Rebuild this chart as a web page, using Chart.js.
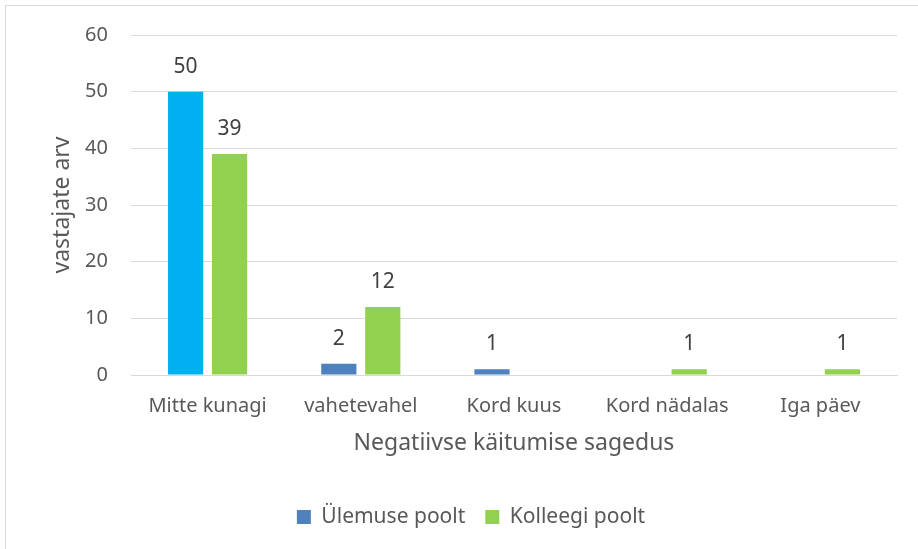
<!DOCTYPE html>
<html lang="et">
<head>
<meta charset="UTF-8">
<title>Negatiivse käitumise sagedus</title>
<script src="https://cdn.jsdelivr.net/npm/chart.js"></script>
<style>
    html, body { margin: 0; padding: 0; overflow: hidden; background: #fff; }
    .raam { position: absolute; left: 5px; top: 5px; width: 1000px; height: 700px; border: 1px solid #d9d9d9; }
    .joonis { position: absolute; left: 0; top: 0; width: 918px; height: 549px; }
</style>
</head>
<body>
<div class="raam"></div>
<div class="joonis"><canvas id="myChart" width="918" height="549"></canvas></div>

<script>
    // kategooriad ja väärtused
    const sagedused = ['Mitte kunagi', 'vahetevahel', 'Kord kuus', 'Kord nädalas', 'Iga päev'];
    const ulemusePoolt = [50, 2, 1, null, null];
    const kolleegiPoolt = [39, 12, null, 1, 1];
    const yTicks = [0, 10, 20, 30, 40, 50, 60];

    const fontNimi = "'Noto Sans', sans-serif";
    const hall = '#595959';
    const helesinine = '#00B0F0';
    const sinine = '#4F81BD';
    const roheline = '#92D050';

    // väärtuste sildid tulpade kohal
    const siltidePlugin = {
        id: 'sildid',
        afterDatasetsDraw(chart) {
            const ctx = chart.ctx;
            ctx.save();
            ctx.fillStyle = '#404040';
            ctx.font = '21px ' + fontNimi;
            ctx.textAlign = 'center';
            ctx.textBaseline = 'middle';
            chart.data.datasets.forEach((ds, i) => {
                const meta = chart.getDatasetMeta(i);
                meta.data.forEach((bar, j) => {
                    if (ds.data[j] === null) return;
                    ctx.fillText(ds.data[j], bar.x, bar.y - 25);
                });
            });
            ctx.restore();
        }
    };

    const config = {
        type: 'bar',
        data: {
            labels: sagedused,
            datasets: [{
                label: 'Ülemuse poolt',
                data: ulemusePoolt,
                backgroundColor: c => c.dataIndex === 0 ? helesinine : sinine
            }, {
                label: 'Kolleegi poolt',
                data: kolleegiPoolt,
                backgroundColor: roheline
            }]
        },
        options: {
            responsive: false,
            animation: false,
            events: [],
            barPercentage: 0.8,
            categoryPercentage: 0.574,
            layout: {
                padding: { left: 45, right: 21, top: 35, bottom: 11.5 }
            },
            plugins: {
                tooltip: { enabled: false },
                legend: {
                    position: 'bottom',
                    labels: {
                        color: hall,
                        font: { family: fontNimi, size: 21 },
                        boxWidth: 14,
                        boxHeight: 14,
                        padding: 20,
                        generateLabels(chart) {
                            const items = Chart.defaults.plugins.legend.labels.generateLabels(chart);
                            const varvid = [sinine, roheline];
                            items.forEach((it, i) => {
                                it.fillStyle = varvid[i];
                                it.strokeStyle = varvid[i];
                                it.lineWidth = 0;
                            });
                            return items;
                        }
                    }
                }
            },
            scales: {
                x: {
                    grid: { display: false, drawTicks: false },
                    border: { color: '#d9d9d9' },
                    ticks: {
                        color: hall,
                        padding: 19,
                        font: { family: fontNimi, size: 20 }
                    },
                    title: {
                        display: true,
                        text: 'Negatiivse käitumise sagedus',
                        color: hall,
                        font: { family: fontNimi, size: 23 },
                        padding: { top: 0, bottom: 29 }
                    },
                    afterFit(scale) { scale.height = 111.5; }
                },
                y: {
                    min: 0,
                    max: 60,
                    grid: { color: '#d9d9d9', drawTicks: false },
                    border: { display: false },
                    afterBuildTicks(scale) { scale.ticks = yTicks.map(v => ({ value: v })); },
                    ticks: {
                        color: hall,
                        padding: 23,
                        font: { family: fontNimi, size: 20 }
                    },
                    title: {
                        display: true,
                        text: 'vastajate arv',
                        color: hall,
                        font: { family: fontNimi, size: 23 },
                        padding: { top: 4, bottom: 0 }
                    },
                    afterFit(scale) { scale.width = 86; }
                }
            }
        },
        plugins: [siltidePlugin]
    };

    const myChart = new Chart(document.getElementById('myChart'), config);
</script>
</body>
</html>
